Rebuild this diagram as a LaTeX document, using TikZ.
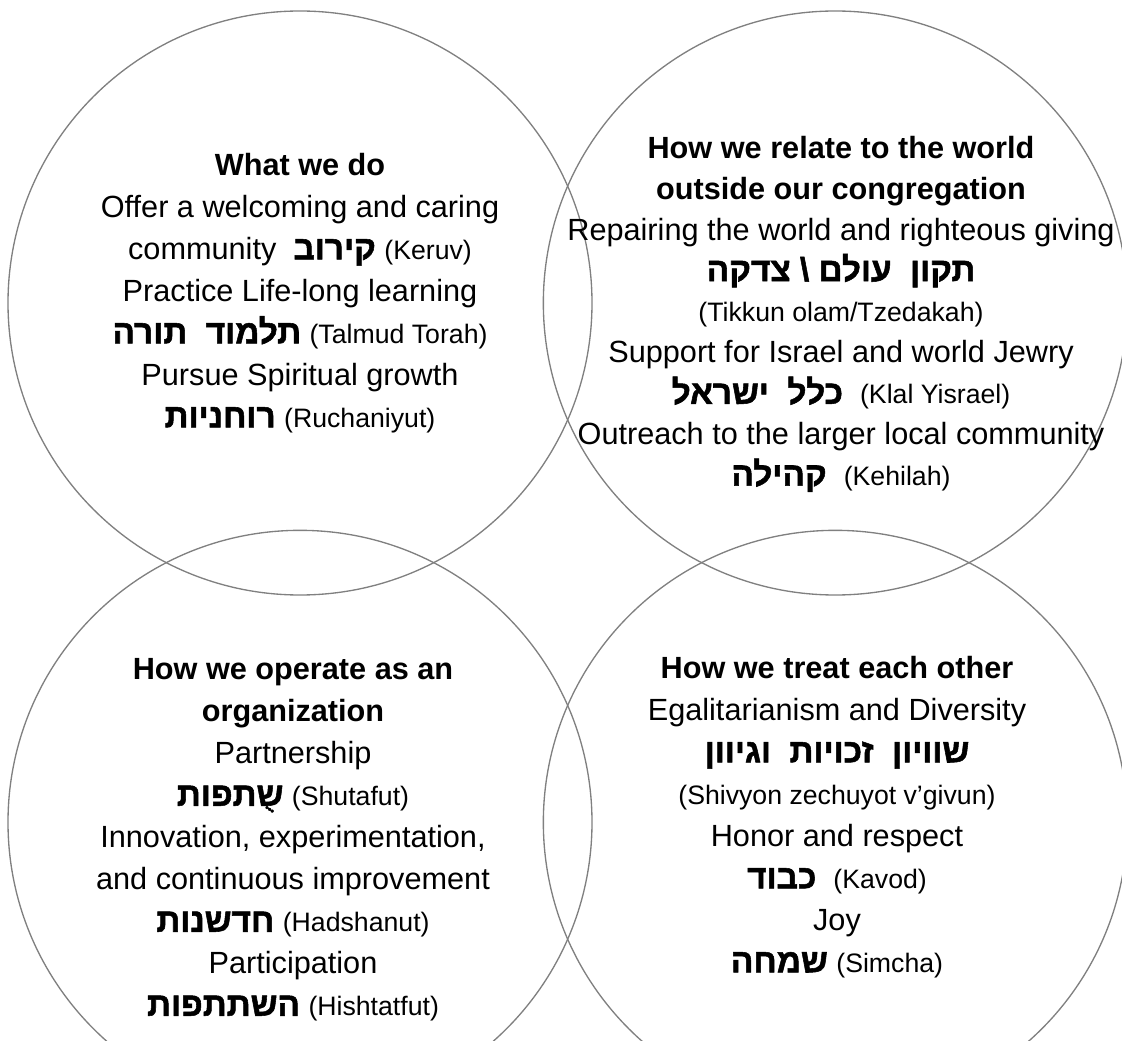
\documentclass[tikz,border=0pt]{standalone}
\usepackage{fontspec}
\setmainfont{Liberation Sans}
\newfontfamily\hebfont[Script=Hebrew, BoldFeatures={FakeBold=1.6}]{Liberation Sans}
\TeXXeTstate=1
\usepackage{tikz}
\usetikzlibrary{positioning}
\definecolor{ringgray}{RGB}{128,128,128}
\newcommand{\heb}[1]{{\hebfont\bfseries\fontsize{25pt}{31.5pt}\selectfont\beginR #1\endR}}
\newcommand{\translit}[1]{{\fontsize{20pt}{31.5pt}\selectfont #1}}

\begin{document}
\begin{tikzpicture}[x=0.75pt, y=-0.75pt,
  ringnode/.style={draw=ringgray, line width=1pt, circle, inner sep=0pt, minimum size=438pt},
  textblock/.style={align=center, inner sep=0pt, font=\fontsize{23pt}{31.5pt}\selectfont},
 ]
\useasboundingbox (0,0) rectangle (1122,1041);

\node[ringnode] (doring) at (300,303) {};
\node[ringnode, right=-37.5pt of doring] (worldring) {};
\node[ringnode, below=-49.5pt of doring] (orgring) {};
\node[ringnode, right=-37.5pt of orgring] (otherring) {};

\node[textblock] (dotext) at (300,293) {\textbf{What we do}\\
Offer a welcoming and caring\\
community\ \ \heb{קירוב} \translit{(Keruv)}\\
Practice Life-long learning\\
\heb{תלמוד\ \ תורה} \translit{(Talmud Torah)}\\
Pursue Spiritual growth\\
\heb{רוחניות} \translit{(Ruchaniyut)}};

\node[textblock, font=\fontsize{23pt}{30.7pt}\selectfont] (worldtext) at (841,314) {\textbf{How we relate to the world}\\
\textbf{outside our congregation}\\
Repairing the world and righteous giving\\
\heb{תקון\ \ עולם \textbackslash\ צדקה}\\
\translit{(Tikkun olam/Tzedakah)}\\
Support for Israel and world Jewry\\
\heb{כלל\ \ ישראל}\ \ \translit{(Klal Yisrael)}\\
Outreach to the larger local community\\
\heb{קהילה}\ \ \translit{(Kehilah)}};

\node[textblock] (orgtext) at (293,840) {\textbf{How we operate as an}\\
\textbf{organization}\\
Partnership\\
\heb{ש^^^^05bbתפות} \translit{(Shutafut)}\hspace*{54pt}\\
Innovation, experimentation,\\
and continuous improvement\\
\heb{חדשנות} \translit{(Hadshanut)}\\
Participation\\
\heb{השתתפות} \translit{(Hishtatfut)}};

\node[textblock] (othertext) at (837,817) {\textbf{How we treat each other}\\
Egalitarianism and Diversity\\
\heb{שוויון\ \ זכויות\ \ וגיוון}\\
\translit{(Shivyon zechuyot v’givun)}\\
Honor and respect\\
\heb{כבוד}\ \ \translit{(Kavod)}\\
Joy\\
\heb{שמחה} \translit{(Simcha)}};

\end{tikzpicture}
\end{document}
